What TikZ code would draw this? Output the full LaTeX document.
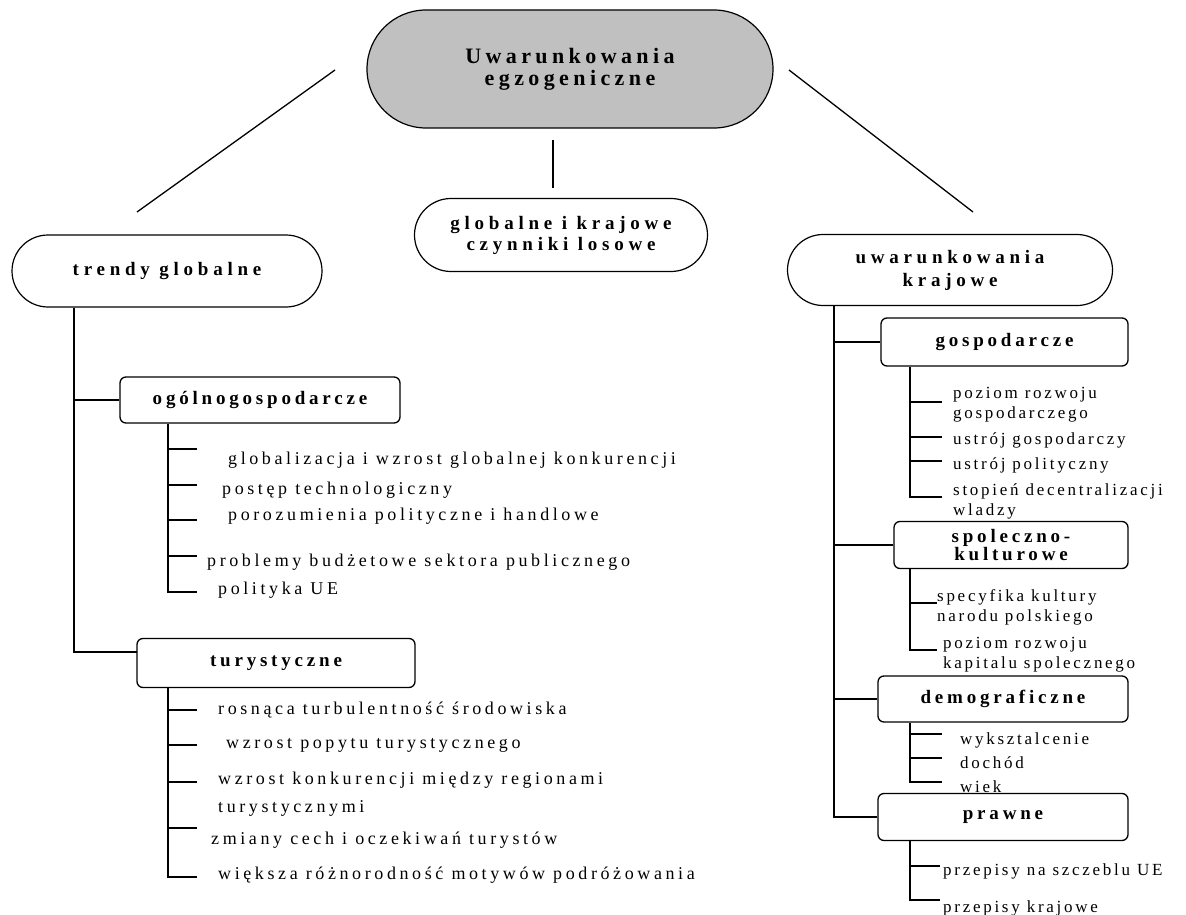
\documentclass[tikz,border=0pt]{standalone}
\usepackage{fontspec}
\setmainfont{Liberation Serif}
\newfontfamily\titlefont[LetterSpace=20]{Liberation Serif}
\newfontfamily\headfont[LetterSpace=25]{Liberation Serif}
\newfontfamily\boxfont[LetterSpace=20]{Liberation Serif}
\newfontfamily\leftfont[LetterSpace=20]{Liberation Serif}
\newfontfamily\rightfont[LetterSpace=16]{Liberation Serif}
\usetikzlibrary{shapes.misc}
\definecolor{titlegray}{RGB}{192,192,192}

\tikzset{
  pill/.style={rounded rectangle, draw, line width=1.2pt, inner sep=0pt,
    align=center, font=\headfont\bfseries\fontsize{19}{21}\selectfont},
  catbox/.style={draw, rounded corners=6pt, line width=1.3pt, inner sep=0pt,
    align=center, font=\boxfont\bfseries\fontsize{19}{18}\selectfont},
  litem/.style={anchor=west, inner sep=0pt, align=left,
    font=\leftfont\fontsize{18}{28}\selectfont},
  ritem/.style={anchor=west, inner sep=0pt, align=left,
    font=\rightfont\fontsize{17}{20}\selectfont},
  link/.style={line width=1.3pt}
}

\begin{document}
\begin{tikzpicture}[x=1pt, y=-1pt]
\useasboundingbox (0,0) rectangle (1186,915);

% --- top level ---
\node[pill, fill=titlegray, minimum width=406pt, minimum height=118pt,
      font=\titlefont\bfseries\fontsize{22}{22}\selectfont] (root) at (570,69)
      {Uwarunkowania\\egzogeniczne};
\node[pill, minimum width=293pt, minimum height=73pt] (rand) at (561,235)
      {globalne i krajowe\\czynniki losowe};
\node[pill, minimum width=310pt, minimum height=72pt] (trend) at (167,271)
      {trendy globalne};
\node[pill, minimum width=325pt, minimum height=71pt,
      font=\headfont\bfseries\fontsize{19}{23}\selectfont] (kraj) at (950,270)
      {uwarunkowania\\krajowe};

\coordinate (rootL) at (335,70);  \coordinate (trendT) at (137,212);
\coordinate (rootR) at (789,70);  \coordinate (krajT)  at (973,212);
\coordinate (rootB) at (553,140); \coordinate (randT)  at (553,188);
\draw[link] (rootL) -- (trendT);
\draw[link] (rootR) -- (krajT);
\draw[link] (rootB) -- (randT);

% --- left branch: trendy globalne ---
\node[catbox, minimum width=280pt, minimum height=46pt] (ogol) at (260,400)
      {ogólnogospodarcze};
\node[catbox, minimum width=278pt, minimum height=49pt] (tur) at (276,663)
      {turystyczne};

\coordinate (ltrunk) at (74,0);
\coordinate (turIn) at (137,652);
\draw[link] (trend.south -| ltrunk) |- (turIn);
\draw[link] (ltrunk |- ogol.west) -- (ogol.west);

\node[litem] (g1) at (228,460) {globalizacja i wzrost globalnej konkurencji};
\node[litem] (g2) at (222,490) {postęp technologiczny};
\node[litem] (g3) at (228,516) {porozumienia polityczne i handlowe};
\node[litem] (g4) at (207,562) {problemy budżetowe sektora publicznego};
\node[litem] (g5) at (218,590) {polityka UE};

\coordinate (ov) at (168,0);
\draw[link] (ogol.south -| ov) -- (ov |- 0,592) -- (197,592);
\foreach \yy in {449,485,520,556} \draw[link] (ov |- 0,\yy) -- (197,\yy);

\node[litem] (t1) at (218,710) {rosnąca turbulentność środowiska};
\node[litem] (t2) at (226,745) {wzrost popytu turystycznego};
\node[litem] (t3) at (218,794) {wzrost konkurencji między regionami\\turystycznymi};
\node[litem] (t4) at (211,840) {zmiany cech i oczekiwań turystów};
\node[litem] (t5) at (218,875) {większa różnorodność motywów podróżowania};

\coordinate (tv) at (168,0);
\draw[link] (tur.south -| tv) -- (tv |- 0,877) -- (197,877);
\foreach \yy in {710,745,782,828} \draw[link] (tv |- 0,\yy) -- (197,\yy);

% --- right branch: uwarunkowania krajowe ---
\node[catbox, minimum width=247pt, minimum height=48pt] (gosp) at (1004.5,342)
      {gospodarcze};
\node[catbox, minimum width=234pt, minimum height=47pt] (spol) at (1011,545)
      {spoleczno-\\kulturowe};
\node[catbox, minimum width=250pt, minimum height=46pt] (demo) at (1003,699)
      {demograficzne};
\node[catbox, minimum width=250pt, minimum height=47pt] (praw) at (1003,817)
      {prawne};

\coordinate (rtrunk) at (834,0);
\draw[link] (kraj.south -| rtrunk) |- (praw.west);
\draw[link] (rtrunk |- gosp.west) -- (gosp.west);
\draw[link] (rtrunk |- spol.west) -- (spol.west);
\draw[link] (rtrunk |- demo.west) -- (demo.west);

\coordinate (rv) at (910,0);

% gospodarcze
\node[ritem] (k1) at (953,405) {poziom rozwoju\\gospodarczego};
\node[ritem] (k2) at (953,440) {ustrój gospodarczy};
\node[ritem] (k3) at (953,465) {ustrój polityczny};
\node[ritem] (k4) at (953,501) {stopień decentralizacji\\wladzy};
\draw[link] (gosp.south -| rv) -- (rv |- 0,497) -- (942,497);
\foreach \yy in {402,437,461} \draw[link] (rv |- 0,\yy) -- (942,\yy);

% spoleczno-kulturowe
\node[ritem] (s1) at (937,607) {specyfika kultury\\narodu polskiego};
\node[ritem] (s2) at (943,655) {poziom rozwoju\\kapitalu spolecznego};
\draw[link] (spol.south -| rv) -- (rv |- 0,650) -- (937,650);
\draw[link] (rv |- 0,603) -- (937,603);

% demograficzne
\node[ritem] (d1) at (960,740) {wyksztalcenie};
\node[ritem] (d2) at (960,763) {dochód};
\node[ritem] (d3) at (960,787) {wiek};
\draw[link] (demo.south -| rv) -- (rv |- 0,782) -- (942,782);
\foreach \yy in {734,758} \draw[link] (rv |- 0,\yy) -- (942,\yy);

% prawne
\node[ritem] (p1) at (943,871) {przepisy na szczeblu UE};
\node[ritem] (p2) at (943,908) {przepisy krajowe};
\draw[link] (praw.south -| rv) -- (rv |- 0,900) -- (940,900);
\draw[link] (rv |- 0,866) -- (940,866);
\end{tikzpicture}
\end{document}
